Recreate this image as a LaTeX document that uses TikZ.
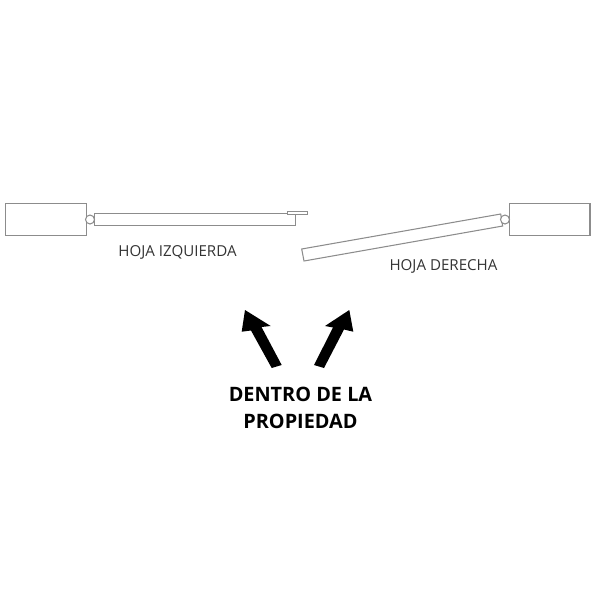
\documentclass[tikz,border=0pt]{standalone}
\usepackage{fontspec}
\setmainfont{Open Sans}
\tikzset{part/.style = {draw = black!45, line width = 0.6pt, fill = white}}
\tikzset{hinge/.style = {part, circle, inner sep = 0, minimum size = 9 * 0.567pt}}
\tikzset{leaflabel/.style = {text = black!80, font = \fontsize{8.6pt}{10pt}\selectfont}}
\tikzset{inside/.style = {font = \fontsize{11.3pt}{15.3pt}\selectfont\bfseries, align = center}}
\begin{document}
\begin{tikzpicture}[x = 0.02cm, y = -0.02cm]
    \useasboundingbox (0, 0) rectangle (600, 600);

    % left leaf
    \draw [part] (5.5, 203.5) rectangle (86.5, 235.5);
    \draw [part] (94.3, 213.3) rectangle (295.7, 225.7);
    \draw [part] (287.3, 211.3) rectangle (307.7, 214.3);
    \node [hinge] (hingeleft) at (90, 219.5) {};
    \node [leaflabel] (labelleft) at (177.5, 252) {HOJA IZQUIERDA};

    % right leaf
    \draw [part] (509.3, 203.5) rectangle (590, 235.5);
    \draw [part] (301.7, 249) -- (500.7, 214) -- (502.7, 226) -- (304, 261) -- cycle;
    \node [hinge] (hingeright) at (505, 219.5) {};
    \node [leaflabel] (labelright) at (443.5, 266) {HOJA DERECHA};

    % arrows
    \fill (245, 310) -- (270.7, 326) -- (261.5, 327) -- (281.7, 365) -- (271.7, 368) -- (251, 330.5) -- (241.7, 331.7) -- cycle;
    \fill (349.3, 310) -- (353.3, 331.7) -- (344, 329.5) -- (324, 368) -- (314, 365) -- (333, 327.5) -- (325, 326) -- cycle;

    \node [inside] (inside) at (300.5, 407.5) {DENTRO DE LA\\PROPIEDAD};
\end{tikzpicture}
\end{document}
